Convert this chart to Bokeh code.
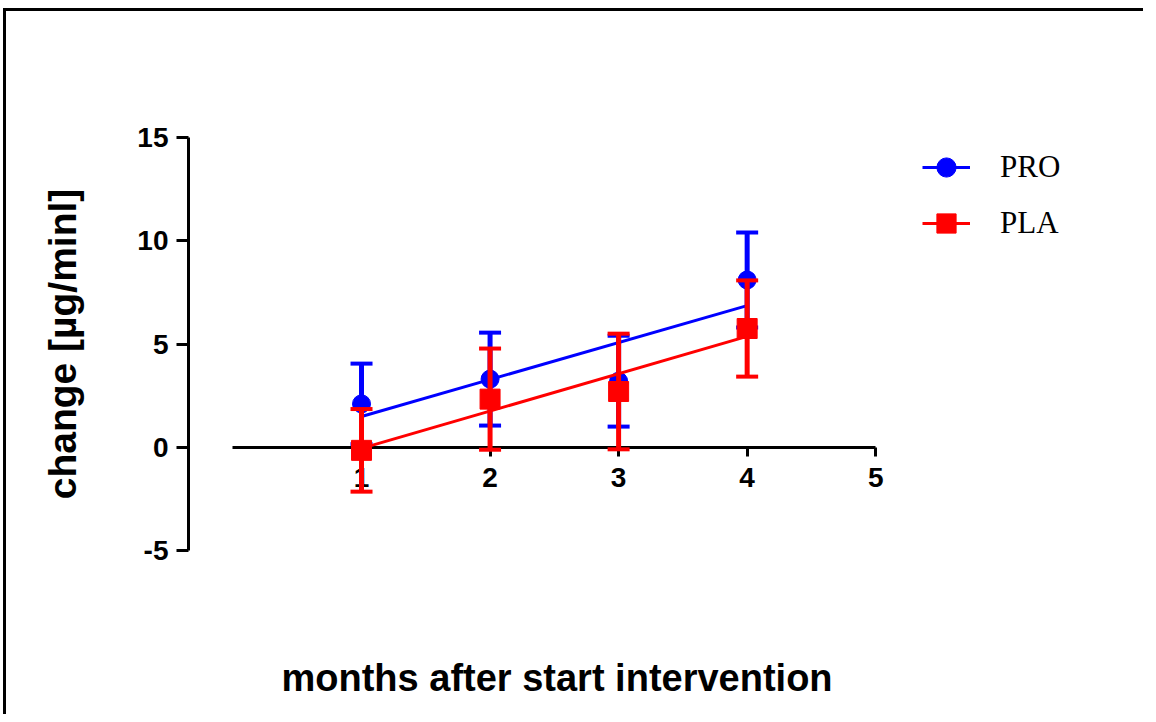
import numpy as np
from bokeh.plotting import figure
from bokeh.models import (LinearAxis, FixedTicker, Range1d, Whisker, TeeHead,
                          ColumnDataSource, Legend, LegendItem, Title)
from bokeh.embed import file_html
from bokeh.resources import INLINE

# ---- data ----
months = [1, 2, 3, 4]
pro_mean = [2.1, 3.3, 3.2, 8.1]
pro_sd = [1.95, 2.25, 2.2, 2.3]
pla_mean = [-0.15, 2.33, 2.7, 5.75]
pla_sd = [2.0, 2.45, 2.8, 2.33]
x_ticks = [1, 2, 3, 4, 5]
y_ticks = [-5, 0, 5, 10, 15]
series_names = ["PRO", "PLA"]
colors = ["#0000ff", "#ff0000"]
x_title = "months after start intervention"
y_title = "change [µg/minl]"

W, H = 1140, 706
p = figure(width=W, height=H, output_backend="svg", toolbar_location=None,
           x_range=Range1d(-0.346, 7.06), y_range=Range1d(-5, 15),
           x_axis_type=None, y_axis_type=None,
           min_border_left=182, min_border_right=6,
           min_border_top=126, min_border_bottom=167)
p.outline_line_color = None
p.background_fill_color = "white"
p.border_fill_color = "white"
p.styles = {"border-top": "3px solid black", "border-left": "3px solid black",
            "margin-top": "8px", "margin-left": "3px"}

FONT = "Liberation Sans"

# y axis
yaxis = LinearAxis(ticker=FixedTicker(ticks=y_ticks), bounds=(-5, 15),
                   axis_label=y_title)
yaxis.major_label_overrides = {t: str(t) for t in y_ticks}
yaxis.axis_line_width = 3
yaxis.major_tick_line_width = 3
yaxis.major_tick_out = 12
yaxis.major_tick_in = 0
yaxis.minor_tick_out = 0
yaxis.minor_tick_in = 0
yaxis.major_label_standoff = 8
yaxis.major_label_text_font = FONT
yaxis.major_label_text_font_style = "bold"
yaxis.major_label_text_font_size = "28px"
yaxis.major_label_text_color = "black"
yaxis.axis_label_text_font = FONT
yaxis.axis_label_text_font_style = "bold"
yaxis.axis_label_text_font_size = "39px"
yaxis.axis_label_text_color = "black"
yaxis.axis_label_standoff = 50
p.add_layout(yaxis, "left")

# x axis crossing at y = 0
xaxis = LinearAxis(ticker=FixedTicker(ticks=x_ticks), bounds=(0, 5),
                   fixed_location=0)
xaxis.axis_line_width = 3
xaxis.major_tick_line_width = 3
xaxis.major_tick_out = 9
xaxis.major_tick_in = 0
xaxis.minor_tick_out = 0
xaxis.minor_tick_in = 0
xaxis.major_label_standoff = 12
xaxis.major_label_text_font = FONT
xaxis.major_label_text_font_style = "bold"
xaxis.major_label_text_font_size = "28px"
xaxis.major_label_text_color = "black"
p.add_layout(xaxis, "below")

# blank spacer axis below the plot (one white tick), then the x title
spacer_tick = [2.5]
spacer = LinearAxis(ticker=FixedTicker(ticks=spacer_tick), bounds=(0, 5))
spacer.major_label_overrides = {spacer_tick[0]: ""}
spacer.axis_line_color = None
spacer.major_tick_line_color = "white"
spacer.minor_tick_line_color = None
spacer.major_tick_out = 99
spacer.major_tick_in = 0
spacer.minor_tick_out = 0
spacer.minor_tick_in = 0
spacer.major_label_text_font_size = "0px"
spacer.major_label_standoff = 0
p.add_layout(spacer, "below")

t = Title(text=x_title, align="left", offset=93, text_font=FONT,
          text_font_size="38px", text_font_style="bold", text_color="black",
          standoff=10)
p.add_layout(t, "below")

# error bars
means = [pro_mean, pla_mean]
sds = [pro_sd, pla_sd]
levels = ["annotation", "overlay"]
for m, s, c, lv in zip(means, sds, colors, levels):
    m = np.array(m)
    s = np.array(s)
    src = ColumnDataSource(dict(x=months, upper=m + s, lower=m - s))
    w = Whisker(base="x", upper="upper", lower="lower", source=src,
                line_color=c, line_width=5, level=lv,
                upper_head=TeeHead(size=22, line_color=c, line_width=4),
                lower_head=TeeHead(size=22, line_color=c, line_width=4))
    p.add_layout(w)

# markers & regression lines
pro_pts = p.scatter(months, pro_mean, marker="circle", size=18,
                    color=colors[0], level="glyph")
fits = []
for m, c in zip(means, colors):
    k, b = np.polyfit(months, m, 1)
    xs = [months[0], months[-1]]
    fits.append(p.line(xs, [k * x + b for x in xs], line_color=c,
                       line_width=3, level="overlay"))
pla_pts = p.scatter(months, pla_mean, marker="square", size=20,
                    color=colors[1], level="overlay")

legend = Legend(items=[LegendItem(label=series_names[0], renderers=[fits[0], pro_pts]),
                       LegendItem(label=series_names[1], renderers=[fits[1], pla_pts])],
                location=(734, 302), padding=0, margin=0, spacing=6,
                glyph_width=48, glyph_height=50, label_standoff=30,
                label_text_font="Liberation Serif", label_text_font_size="31px",
                label_text_color="black",
                border_line_color=None, background_fill_alpha=0)
p.add_layout(legend)

open("out.html", "w").write(file_html(p, INLINE))
